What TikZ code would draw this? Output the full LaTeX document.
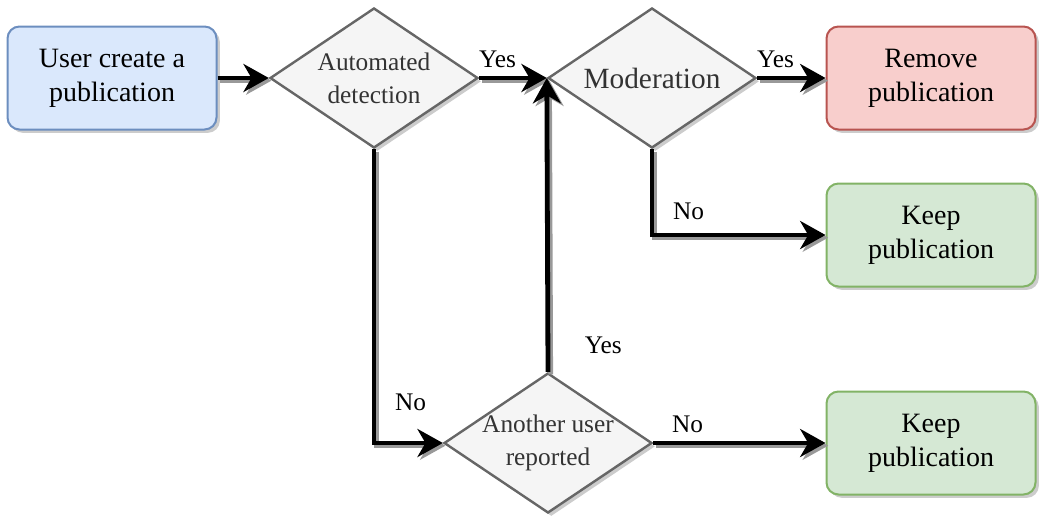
\documentclass[tikz,border=0pt]{standalone}
\usepackage{fontspec}
\setmainfont{Liberation Serif}
\usetikzlibrary{shapes.geometric,arrows.meta,shadows}

\begin{document}
\begin{tikzpicture}[x=0.75pt,y=-0.75pt]
        % Colors
        \definecolor{startfill}{HTML}{DAE8FC}
        \definecolor{startline}{HTML}{6C8EBF}
        \definecolor{removefill}{HTML}{F8CECC}
        \definecolor{removeline}{HTML}{B85450}
        \definecolor{keepfill}{HTML}{D5E8D4}
        \definecolor{keepline}{HTML}{82B366}
        \definecolor{decisionfill}{HTML}{F5F5F5}
        \definecolor{decisionline}{HTML}{666666}
        \definecolor{decisiontext}{HTML}{333333}
        % Styles
        \tikzstyle{shade}=[drop shadow={shadow xshift=2.5pt,shadow yshift=-2.5pt,fill=black!40}]
        \tikzstyle{process}=[shade,rounded corners=9pt,line width=1.5pt,align=center,
            minimum width=156.75pt,minimum height=77.25pt,font=\fontsize{21}{25.5}\selectfont]
        \tikzstyle{decision}=[shade,diamond,aspect=1.48,draw=decisionline,fill=decisionfill,line width=1.8pt,
            inner sep=-5pt,align=center,text=decisiontext,minimum width=156pt,minimum height=105pt]
        \tikzstyle{flow}=[line width=3.6pt,-{Stealth[length=19pt,width=21pt,inset=6pt]},
            preaction={draw=black!40,line width=3.6pt,transform canvas={xshift=2pt,yshift=-2pt}}]
        \tikzstyle{answer}=[font=\fontsize{19}{22}\selectfont,inner sep=2pt]
        %The graphic
        \useasboundingbox (0,0) rectangle (1042,518);
        \node[process,draw=startline,fill=startfill] (user) at (112,78) {User create a\\publication};
        \node[decision,font=\fontsize{19}{25}\selectfont] (auto) at (374,78) {Automated\\detection};
        \node[decision,font=\fontsize{22}{26}\selectfont] (mod) at (652,78) {Moderation};
        \node[process,draw=removeline,fill=removefill] (remove) at (931,78) {Remove\\publication};
        \node[process,draw=keepline,fill=keepfill] (keepa) at (931,235) {Keep\\publication};
        \node[decision,font=\fontsize{19}{25}\selectfont] (report) at (548,443) {Another user\\reported};
        \node[process,draw=keepline,fill=keepfill] (keepb) at (931,443) {Keep\\publication};
        % Connectors
        \draw[flow] (user) -- (auto);
        \draw[flow] (auto) -- node[answer,pos=0.27,above=4pt] {Yes} (mod);
        \draw[flow] (mod) -- node[answer,pos=0.27,above=4pt] {Yes} (remove);
        \draw[flow] (mod.south) |- node[answer,pos=0.36,right=12pt] {No} (keepa.west);
        \draw[flow] (auto.south) |- node[answer,pos=0.43,right=12pt] {No} (report.west);
        \draw[flow] (report.north) -- node[answer,pos=0.09,right=24pt] {Yes} (mod.west);
        \draw[flow] (report) -- node[answer,pos=0.2,above=4pt] {No} (keepb);
\end{tikzpicture}
\end{document}
